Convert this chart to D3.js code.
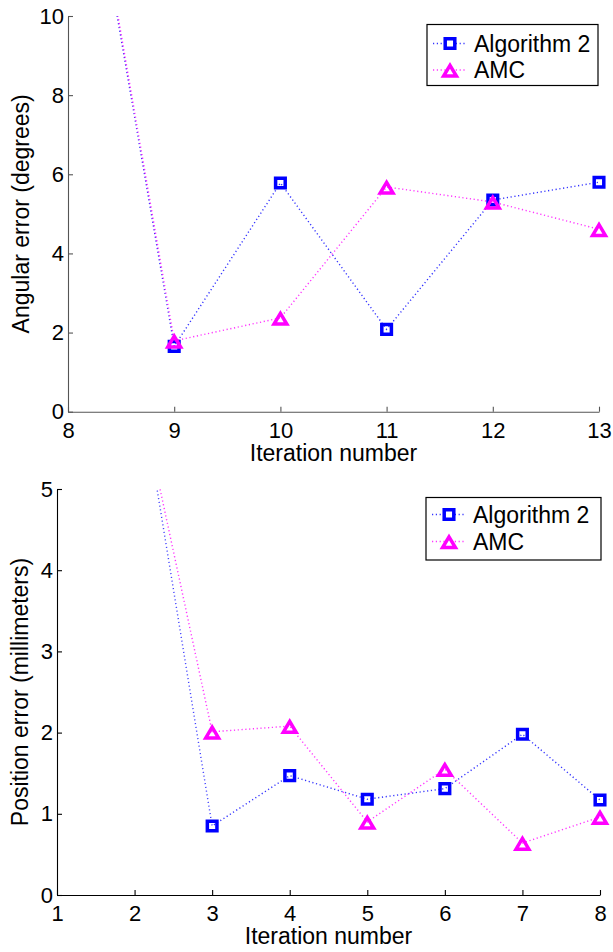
<!DOCTYPE html>
<html>
<head>
<meta charset="utf-8">
<script src="https://cdn.jsdelivr.net/npm/d3@7"></script>
<style>
  html, body { margin: 0; padding: 0; background: #fff; }
  svg { display: block; font-family: "Liberation Sans", Arial, Helvetica, sans-serif; }
</style>
</head>
<body>
<svg id="chart" width="613" height="952"></svg>
<script>
// Angular error per iteration (upper panel)
const angIterations = [8, 9, 10, 11, 12, 13];
const angAlgorithm2 = [17.2, 1.65, 5.78, 2.08, 5.35, 5.8];
const angAMC        = [17.3, 1.79, 2.37, 5.68, 5.3, 4.61];
const angXTicks = [8, 9, 10, 11, 12, 13];
const angYTicks = [0, 2, 4, 6, 8, 10];

// Position error per iteration (lower panel)
const posIterations = [2, 3, 4, 5, 6, 7, 8];
const posAlgorithm2 = [6.69, 0.85, 1.47, 1.18, 1.31, 1.98, 1.17];
const posAMC        = [6.46, 2.01, 2.08, 0.9, 1.55, 0.64, 0.96];
const posXTicks = [1, 2, 3, 4, 5, 6, 7, 8];
const posYTicks = [0, 1, 2, 3, 4, 5];

const seriesNames = ["Algorithm 2", "AMC"];
const seriesColors = ["#0000ff", "#ff00ff"];

const svg = d3.select("#chart");

function markerPath(kind) {
  if (kind === "square") return "M-4.8,-4.8H4.8V4.8H-4.8Z";
  return "M0,-4.6L6.4,6.1L-6.4,6.1Z";
}

function drawPanel(cfg) {
  const x = d3.scaleLinear().domain(cfg.xDomain).range([cfg.left, cfg.right]);
  const y = d3.scaleLinear().domain(cfg.yDomain).range([cfg.bottom, cfg.top]);
  const g = svg.append("g");

  const clipId = "clip-" + cfg.id;
  svg.append("clipPath").attr("id", clipId)
    .append("rect")
    .attr("x", cfg.left).attr("y", cfg.top)
    .attr("width", cfg.right - cfg.left).attr("height", cfg.bottom - cfg.top);

  // axes (ticks point inward)
  const xAxis = g.append("g")
    .attr("transform", `translate(0,${cfg.bottom})`)
    .call(d3.axisBottom(x).tickValues(cfg.xTicks).tickFormat(d3.format("d"))
      .tickSizeInner(-5).tickSizeOuter(0).tickPadding(10.5));
  const yAxis = g.append("g")
    .attr("transform", `translate(${cfg.left},0)`)
    .call(d3.axisLeft(y).tickValues(cfg.yTicks).tickFormat(d3.format("d"))
      .tickSizeInner(-5).tickSizeOuter(0).tickPadding(4));
  [xAxis, yAxis].forEach(a => {
    a.selectAll("path, line").attr("stroke", cfg.axisColor).attr("stroke-width", 1.1);
    a.selectAll("text").attr("fill", "#000").style("font-size", "22px")
      .style("font-family", "'Liberation Sans', Arial, sans-serif");
  });

  g.append("text")
    .attr("x", (cfg.left + cfg.right) / 2)
    .attr("y", cfg.bottom + 49)
    .attr("text-anchor", "middle")
    .style("font-size", "23px")
    .text(cfg.xLabel);
  g.append("text")
    .attr("transform", `translate(${cfg.yLabelX},${(cfg.top + cfg.bottom) / 2}) rotate(-90)`)
    .attr("text-anchor", "middle")
    .style("font-size", "23px")
    .text(cfg.yLabel);

  // series: dotted line then markers
  const kinds = ["square", "triangle"];
  cfg.series.forEach((vals, i) => {
    const pts = cfg.xs.map((d, j) => [d, vals[j]]);
    g.append("path")
      .attr("clip-path", `url(#${clipId})`)
      .attr("d", d3.line().x(d => x(d[0])).y(d => y(d[1]))(pts))
      .attr("fill", "none")
      .attr("stroke", seriesColors[i])
      .attr("stroke-width", 1.4)
      .attr("stroke-opacity", 0.8)
      .attr("stroke-dasharray", "1.2,2.6");
    g.selectAll(null)
      .data(pts.filter(d => d[1] <= cfg.yDomain[1] && d[0] >= cfg.xDomain[0]))
      .join("path")
      .attr("transform", d => `translate(${x(d[0])},${y(d[1])})`)
      .attr("d", markerPath(kinds[i]))
      .attr("fill", "none")
      .attr("stroke", seriesColors[i])
      .attr("stroke-width", 3.5)
      .attr("stroke-linejoin", "miter");
  });

  // legend
  const L = cfg.legend;
  g.append("rect")
    .attr("x", L.x0).attr("y", L.y0)
    .attr("width", L.x1 - L.x0).attr("height", L.y1 - L.y0)
    .attr("fill", "#fff").attr("stroke", "#000").attr("stroke-width", 1.2);
  seriesNames.forEach((name, i) => {
    const ry = L.rows[i];
    g.append("line")
      .attr("x1", L.x0 + 6).attr("x2", L.x0 + 40)
      .attr("y1", ry).attr("y2", ry)
      .attr("stroke", seriesColors[i]).attr("stroke-width", 1.4)
      .attr("stroke-opacity", 0.8).attr("stroke-dasharray", "1.2,2.6");
    g.append("path")
      .attr("transform", `translate(${L.x0 + 23},${ry})`)
      .attr("d", markerPath(kinds[i]))
      .attr("fill", "#fff")
      .attr("stroke", seriesColors[i]).attr("stroke-width", 3.5);
    g.append("text")
      .attr("x", L.x0 + 47).attr("y", ry)
      .attr("dy", "0.36em")
      .style("font-size", "23px")
      .text(name);
  });
}

drawPanel({
  id: "ang",
  left: 68, right: 599, top: 16, bottom: 411.7,
  xDomain: [8, 13], yDomain: [0, 10],
  xTicks: angXTicks, yTicks: angYTicks,
  xs: angIterations, series: [angAlgorithm2, angAMC],
  axisColor: "#555",
  xLabel: "Iteration number",
  yLabel: "Angular error (degrees)",
  yLabelX: 29,
  legend: { x0: 427, x1: 598, y0: 24.5, y1: 85.5, rows: [43.5, 70] }
});

drawPanel({
  id: "pos",
  left: 57, right: 600, top: 489, bottom: 895,
  xDomain: [1, 8], yDomain: [0, 5],
  xTicks: posXTicks, yTicks: posYTicks,
  xs: posIterations, series: [posAlgorithm2, posAMC],
  axisColor: "#000",
  xLabel: "Iteration number",
  yLabel: "Position error (millimeters)",
  yLabelX: 28,
  legend: { x0: 426, x1: 601, y0: 497.5, y1: 560, rows: [514.5, 541.5] }
});
</script>
</body>
</html>
